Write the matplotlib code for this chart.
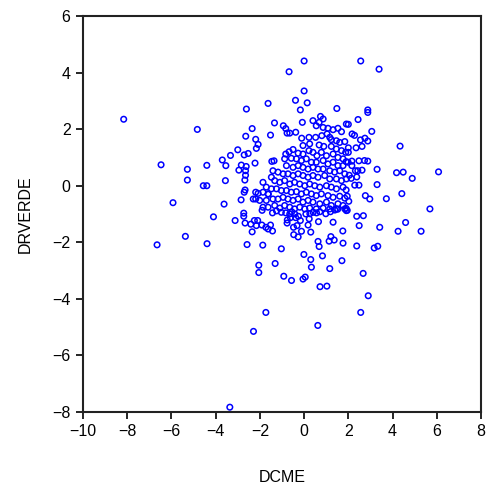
import matplotlib
matplotlib.use("Agg")
import matplotlib.pyplot as plt

# DCME (x) / DRVERDE (y) pairs
# outer / sparse points
dcme_outer = [0.0, -0.68, 0.0, -0.39, 0.14, -1.63, -2.61, -0.17, 1.48,
              2.56, 3.39, 2.88,
              -8.16, -4.83, -6.47, -5.28, -4.40, -5.28, -4.56, -4.40, -5.93,
              -4.10, -6.65, -5.37, -4.39,
              -1.73, -2.29, 0.62, -3.36, 2.56,
              -3.12, -2.73, -2.73, -2.67, -2.41, -2.25, -2.10, -2.16, -1.91, -1.73,
              -1.63, -1.52, -1.43, -2.35, -2.58, -1.87, -1.03, -2.05, -2.05, -1.31,
              -0.92, -0.57, -0.05, 0.05, -0.01, 0.30, 0.33, 0.83, 0.72, 1.03,
              1.16, 1.71, 0.63, 0.68, 1.13, 1.21, 1.36, 1.76, 1.75, 1.31,
              0.65, 0.30, -0.12, -0.27, -0.47, -0.48, -0.32, -0.17, 0.18, 0.23,
              -0.77, -0.76,
              1.95, 2.38, 2.68, 2.49, 3.42, 4.59, 4.25, 5.29, 5.69, 2.38,
              3.17, 3.33, 2.67, 2.90,
              2.88, 2.44, 2.00, 2.17, 2.28, 3.06, 2.55, 2.75, 2.88, 2.35,
              2.62, 2.00, 2.00, 4.34, 1.90, 2.16, 2.48, 2.73, 2.88, 2.16,
              3.30, 2.32, 2.43, 2.62, 4.18, 4.48, 6.08, 4.89, 2.04, 2.13,
              2.38, 2.29, 2.48, 3.30, 1.90, 2.77, 2.97, 1.95, 2.02, 3.72,
              4.42, 1.90,
              -1.34, -0.94, -0.83, -0.77, -2.35, -2.64, -1.52, -2.19, -2.08, -2.16,
              -2.53, -2.71, -3.00, -3.33, -3.70, -3.54, -2.95, -2.84, -2.62, -2.65,
              -2.65, -2.68, -3.56, -2.22, -1.36, -1.46, -3.62, -2.85, -2.67, -2.71,
              -1.62]
drverde_outer = [4.41, 4.03, 3.35, 3.02, 2.93, 2.91, 2.71, 2.68, 2.73,
                 4.41, 4.12, 2.68,
                 2.35, 1.99, 0.74, 0.58, 0.72, 0.20, 0.0, 0.0, -0.60,
                 -1.10, -2.09, -1.79, -2.05,
                 -4.48, -5.15, -4.94, -7.83, -4.48,
                 -1.23, -0.97, -1.08, -1.32, -1.36, -1.23, -1.23, -1.41, -1.39, -1.47,
                 -1.53, -1.39, -1.60, -1.63, -2.08, -2.10, -2.23, -2.81, -3.07, -2.75,
                 -3.20, -3.35, -3.30, -3.23, -2.43, -2.61, -2.88, -2.48, -3.57, -3.55,
                 -2.93, -2.65, -1.97, -2.15, -1.96, -1.80, -1.92, -2.03, -1.60, -1.29,
                 -1.27, -1.64, -1.61, -1.81, -1.73, -1.47, -1.41, -1.23, -1.39, -1.17,
                 -1.32, -1.21,
                 -0.87, -1.08, -1.06, -1.41, -1.47, -1.30, -1.61, -1.61, -0.82, -2.13,
                 -2.20, -2.14, -3.10, -3.89,
                 2.59, 2.34, 2.17, 1.83, 1.78, 1.92, 1.62, 1.68, 1.58, 1.34,
                 1.39, 1.34, 1.18, 1.40, 0.85, 0.87, 0.88, 0.89, 0.87, 0.71,
                 0.58, 0.53, 0.53, 0.55, 0.46, 0.48, 0.49, 0.26, 0.37, 0.26,
                 0.31, 0.02, 0.02, 0.04, -0.15, -0.35, -0.47, -0.37, -0.55, -0.46,
                 -0.28, -0.80,
                 2.22, 2.12, 2.02, 1.86, 2.02, 1.75, 1.79, 1.64, 1.46, 1.32,
                 1.14, 1.09, 1.27, 1.07, 0.91, 0.71, 0.55, 0.73, 0.68, 0.53,
                 0.37, 0.20, 0.18, 0.80, 0.88, 0.86, -0.65, -0.50, -0.15, -0.23,
                 -0.30]

# row of points just below -0.8
dcme_row = [-1.43, -1.25, -1.03, -0.83, -0.65, -0.56, -0.42, -0.38, -0.26, -0.62,
            0.08, 0.26, 0.41, 0.56, 0.71, 0.98, 1.19, 1.39, 1.52, 1.91, -1.90]
drverde_row = [-0.96, -0.89, -0.94, -0.96, -1.00, -0.92, -1.00, -1.13, -1.08, -1.13,
               -1.00, -0.99, -0.94, -0.96, -0.92, -0.99, -0.92, -0.86, -0.83, -0.88, -0.87]

# dense centre
dcme_core = [0.74, 0.86, 0.40, 0.55, 0.68, 0.86, 1.08, 1.31, 1.53, 1.91,
             1.69, -0.08, -0.38, -0.65, -0.11, 0.22, 0.52, 0.80, 1.04, 1.16,
             1.23, 1.46, 1.61, 1.84, -0.05, 0.25, 0.68, 0.89, 1.23, 1.46,
             1.69, 1.88, -0.50, -0.68, -0.83, -0.27, -0.05, 0.22, 0.40, 0.58,
             0.78, 1.01, 1.31, 1.53, 1.76, -0.88, -0.58, -0.35, -0.12, 0.10,
             0.33, 0.55, 0.86, 1.08, 1.31, 1.53, 1.76, 1.99, -0.80, -0.50,
             -0.27, -0.05, 0.18, 0.40, 0.63, 0.86, 1.16, 1.38, 1.61, 1.84,
             -1.41, -1.18, -0.95, -0.73, -0.50, -0.27, -0.05, 0.18, 0.40, 0.63,
             0.93, 1.16, 1.46, 1.69, 1.91, -1.48, -1.33, -1.10, -0.88, -0.65,
             -0.43, -0.20, 0.03, 0.25, 0.48, 0.71, 1.01, 1.23, 1.46, 1.76,
             -1.86, -1.71, -1.48, -1.25, -1.03, -0.80, -0.58, -0.35, -0.12, 0.10,
             0.33, 0.55, 0.78, 1.08, 1.31, 1.61, 1.84, -1.86, -1.63, -2.08,
             -2.19, -2.19, -2.30, -2.01, -1.71, -1.41, -1.18, -0.95, -0.73, -0.50,
             -0.27, -0.05, 0.18, 0.40, 0.71, 1.01, 1.23, 1.53, 1.76, -1.86,
             -1.63, -1.33, -1.10, -0.88, -0.65, -0.43, -0.20, 0.03, 0.25, 0.55,
             0.86, 1.16, 1.46, 1.84]
drverde_core = [2.45, 2.36, 2.30, 2.12, 2.24, 2.06, 2.03, 1.98, 2.03, 2.18,
                1.91, 2.24, 1.89, 1.86, 1.68, 1.71, 1.71, 1.77, 1.83, 1.71,
                1.63, 1.59, 1.53, 1.56, 1.42, 1.48, 1.44, 1.39, 1.39, 1.30,
                1.24, 1.18, 1.28, 1.20, 1.12, 1.15, 1.12, 1.24, 1.18, 1.06,
                1.18, 1.06, 1.12, 1.00, 0.95, 0.95, 0.97, 0.95, 0.89, 0.95,
                0.83, 0.83, 0.89, 0.77, 0.83, 0.71, 0.71, 0.83, 0.71, 0.65,
                0.71, 0.65, 0.59, 0.65, 0.59, 0.59, 0.53, 0.48, 0.53, 0.42,
                0.53, 0.48, 0.42, 0.42, 0.36, 0.42, 0.36, 0.30, 0.36, 0.30,
                0.36, 0.24, 0.24, 0.18, 0.24, 0.30, 0.18, 0.12, 0.18, 0.06,
                0.12, 0.06, 0.00, 0.06, 0.00, -0.05, 0.00, -0.05, -0.11, -0.05,
                0.12, -0.05, -0.11, -0.11, -0.17, -0.17, -0.23, -0.21, -0.29, -0.23,
                -0.29, -0.35, -0.29, -0.35, -0.41, -0.37, -0.44, -0.23, -0.29, -0.27,
                -0.23, -0.47, -0.47, -0.52, -0.52, -0.47, -0.47, -0.41, -0.47, -0.52,
                -0.47, -0.58, -0.52, -0.58, -0.64, -0.58, -0.70, -0.64, -0.70, -0.76,
                -0.76, -0.70, -0.79, -0.70, -0.76, -0.82, -0.76, -0.82, -0.79, -0.82,
                -0.79, -0.82, -0.82, -0.82]

dcme = dcme_outer + dcme_row + dcme_core
drverde = drverde_outer + drverde_row + drverde_core

x_ticks = [-10, -8, -6, -4, -2, 0, 2, 4, 6, 8]
y_ticks = [-8, -6, -4, -2, 0, 2, 4, 6]

plt.rcParams['font.family'] = ['Liberation Sans', 'DejaVu Sans']

fig = plt.figure(figsize=(4.86, 4.91), dpi=100)
ax = fig.add_axes([0.1708, 0.1609, 0.8189, 0.8065])

ax.scatter(dcme, drverde, s=16, facecolors='none', edgecolors='#0000ff',
           linewidths=1.1, clip_on=False)

ax.set_xlim(-10, 8)
ax.set_ylim(-8, 6)
ax.set_xticks(x_ticks)
ax.set_yticks(y_ticks)
ax.tick_params(direction='out', length=5, width=1.2, labelsize=11.5,
               top=False, right=False, pad=4)
for sp in ax.spines.values():
    sp.set_linewidth(1.5)
    sp.set_color('#222222')

ax.set_xlabel('DCME', fontsize=11.5, labelpad=22)
ax.set_ylabel('DRVERDE', fontsize=11.5, labelpad=14)

fig.savefig('out.png', dpi=100)
